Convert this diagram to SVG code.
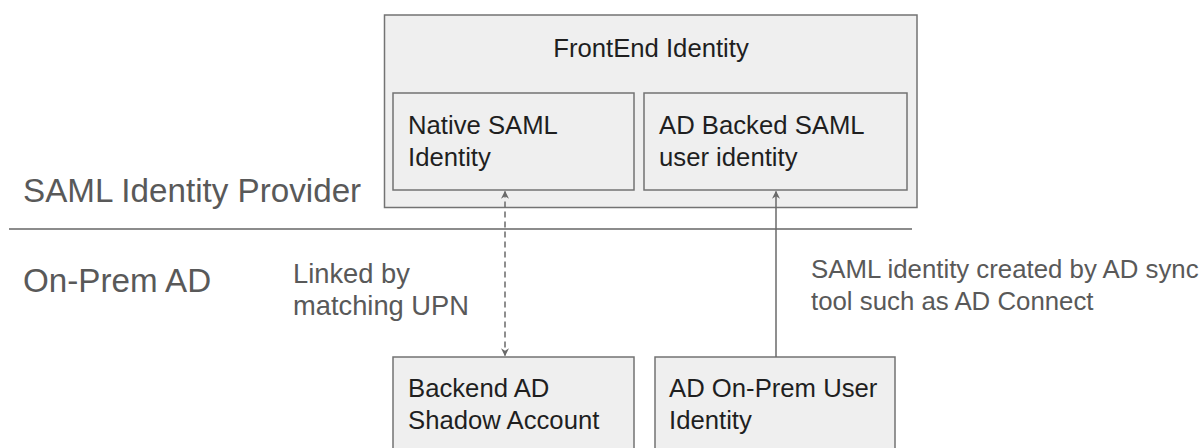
<svg xmlns="http://www.w3.org/2000/svg" width="1202" height="448" viewBox="0 0 1202 448">
  <defs>
    <style>
      .box { fill: #efefef; stroke: #737373; stroke-width: 1.5; }
      .bt { font-family: "Liberation Sans", Arial, sans-serif; font-size: 25.7px; fill: #1f1f1f; }
      .sec { font-family: "Liberation Sans", Arial, sans-serif; font-size: 33.2px; fill: #595959; }
      .ann { font-family: "Liberation Sans", Arial, sans-serif; fill: #595959; }
      .conn { stroke: #6a6a6a; stroke-width: 1.5; fill: none; }
    </style>
    <marker id="ah" viewBox="0 0 10 10" refX="9" refY="5" markerWidth="8" markerHeight="8" orient="auto-start-reverse" markerUnits="userSpaceOnUse">
      <path d="M0,0 L10,5 L0,10 L3,5 z" fill="#6a6a6a"/>
    </marker>
  </defs>
  <rect width="1202" height="448" fill="#ffffff"/>

  <g id="section-labels">
    <text class="sec" x="23" y="202">SAML Identity Provider</text>
    <line x1="9" y1="229" x2="912" y2="229" stroke="#666666" stroke-width="1.5"/>
    <text class="sec" x="23" y="292">On-Prem AD</text>
  </g>

  <g id="frontend">
    <rect class="box" x="384.5" y="15" width="532.5" height="192.5"/>
    <text class="bt" x="651" y="57" text-anchor="middle">FrontEnd Identity</text>
  </g>
  <g id="native-saml">
    <rect class="box" x="393" y="93" width="241" height="97"/>
    <text class="bt" x="408" y="134">Native SAML</text>
    <text class="bt" x="408" y="166">Identity</text>
  </g>
  <g id="ad-backed-saml">
    <rect class="box" x="644" y="93" width="263" height="97"/>
    <text class="bt" x="659" y="134">AD Backed SAML</text>
    <text class="bt" x="659" y="166">user identity</text>
  </g>
  <g id="backend-ad">
    <rect class="box" x="393" y="357" width="241" height="110"/>
    <text class="bt" x="408" y="397">Backend AD</text>
    <text class="bt" x="408" y="429">Shadow Account</text>
  </g>
  <g id="ad-onprem">
    <rect class="box" x="655" y="357" width="240" height="110"/>
    <text class="bt" x="669" y="397">AD On-Prem User</text>
    <text class="bt" x="669" y="429">Identity</text>
  </g>

  <g id="connectors">
    <line class="conn" x1="505" y1="191.5" x2="505" y2="355.5" stroke-dasharray="6,4" marker-start="url(#ah)" marker-end="url(#ah)"/>
    <line class="conn" x1="776" y1="357" x2="776" y2="191.5" marker-end="url(#ah)"/>
  </g>

  <g id="annotations">
    <text class="ann" x="293" y="283" font-size="27.3">Linked by</text>
    <text class="ann" x="293" y="315" font-size="27.3">matching UPN</text>
    <text class="ann" x="811" y="278" font-size="25.8">SAML identity created by AD sync</text>
    <text class="ann" x="811" y="310" font-size="25.8">tool such as AD Connect</text>
  </g>
</svg>
